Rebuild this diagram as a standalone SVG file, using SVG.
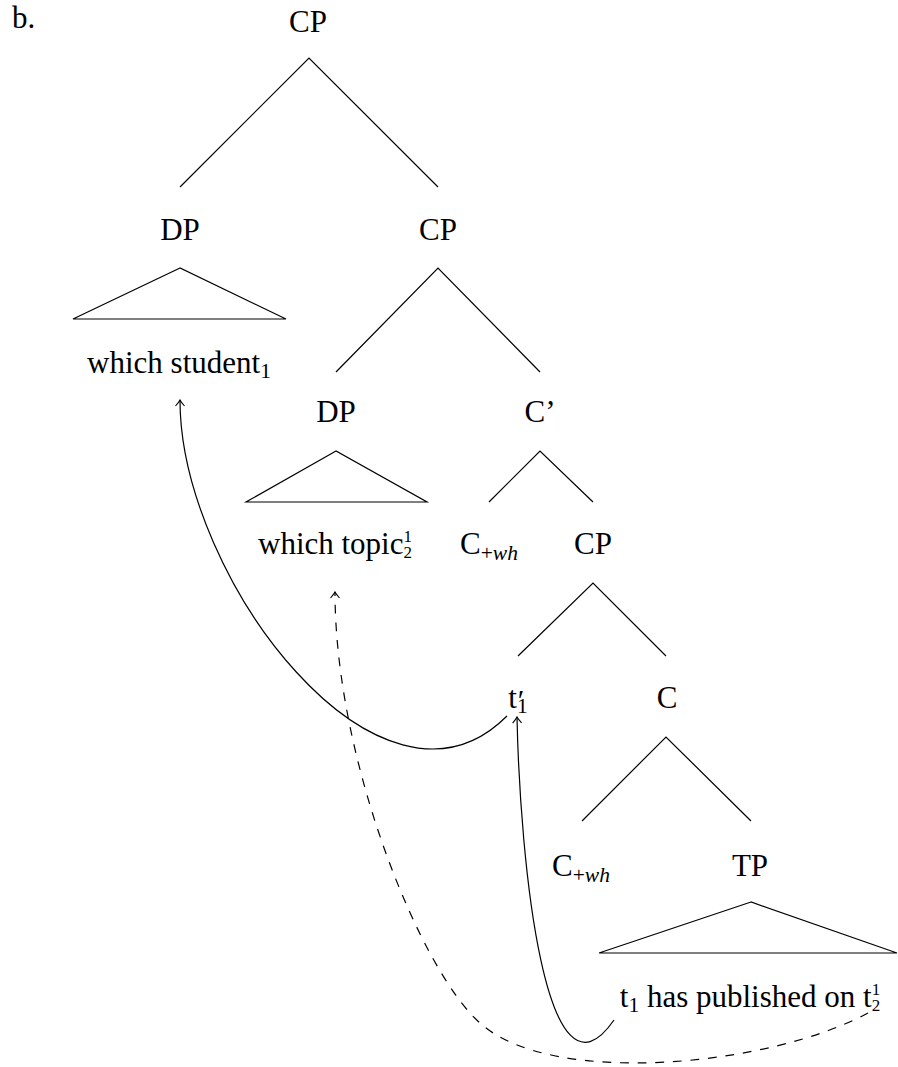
<svg xmlns="http://www.w3.org/2000/svg" width="898" height="1067" viewBox="0 0 898 1067">
<style>
text{font-family:"Liberation Serif","Times New Roman",serif;font-size:31px;fill:#000;text-anchor:middle}
.s{font-size:21.5px}
.ss{font-size:17px}
.p{font-size:30px}
.i{font-style:italic}
.e{fill:none;stroke:#000;stroke-width:1.2}
.d{stroke-dasharray:8.8 8.8}
</style>
<defs>
<marker id="arr" markerUnits="userSpaceOnUse" markerWidth="16" markerHeight="16" viewBox="-8 -8 16 16" refX="0" refY="0" orient="auto" overflow="visible">
<path d="M-6,-4.5 Q-2,-1 0,0 Q-2,1 -6,4.5" fill="none" stroke="#000" stroke-width="1.1" stroke-dasharray="none"/>
</marker>
</defs>
<rect width="898" height="1067" fill="#fff"/>
<text x="12" y="28" style="text-anchor:start">b.</text>

<g id="connectors">
<path class="e" d="M180,187 L309,58 L438,187"/>
<path class="e" d="M336,372 L438,268 L540,372"/>
<path class="e" d="M489,502 L540,451 L593,502"/>
<path class="e" d="M518,656 L593,583 L666,656"/>
<path class="e" d="M582,821 L666,737 L751,821"/>
<path class="e" d="M507,716 C381,842 180,578 180,400" marker-end="url(#arr)"/>
<path class="e" d="M614,1020 C545,1120 520,860 517,717" marker-end="url(#arr)"/>
<path class="e d" d="M868,1013 C768,1067 550,1087 480,1023 C420,970 335,760 335,592" marker-end="url(#arr)"/>
</g>

<g id="cp-root"><text x="308" y="32">CP</text></g>
<g id="dp-1">
<text x="180" y="240">DP</text>
<path class="e" d="M180,268 L73,319 L286,319 Z"/>
<text x="179" y="373">which student<tspan class="s" dy="5">1</tspan></text>
</g>
<g id="cp-2"><text x="438" y="240">CP</text></g>
<g id="dp-2">
<text x="336" y="422">DP</text>
<path class="e" d="M336,451 L246,502 L427,502 Z"/>
<text x="335" y="554">which topic<tspan class="ss" dy="-12">1</tspan><tspan class="ss" dx="-8.5" dy="16">2</tspan></text>
</g>
<g id="c-bar"><text x="540" y="422">C’</text></g>
<g id="c-wh-1"><text x="489" y="554">C<tspan class="s" dy="6">+<tspan class="i">wh</tspan></tspan></text></g>
<g id="cp-3"><text x="593" y="554">CP</text></g>
<g id="t1-prime"><text x="518" y="708">t<tspan class="s" dy="5">1</tspan><tspan class="p" dx="-10" dy="-3">′</tspan></text></g>
<g id="c"><text x="667" y="708">C</text></g>
<g id="c-wh-2"><text x="581" y="876">C<tspan class="s" dy="6">+<tspan class="i">wh</tspan></tspan></text></g>
<g id="tp">
<text x="750" y="876">TP</text>
<path class="e" d="M751,902 L599,953 L897,953 Z"/>
<text x="750" y="1007">t<tspan class="s" dy="5">1</tspan><tspan dy="-5"> has published on t</tspan><tspan class="ss" dy="-12">1</tspan><tspan class="ss" dx="-8.5" dy="16">2</tspan></text>
</g>
</svg>
